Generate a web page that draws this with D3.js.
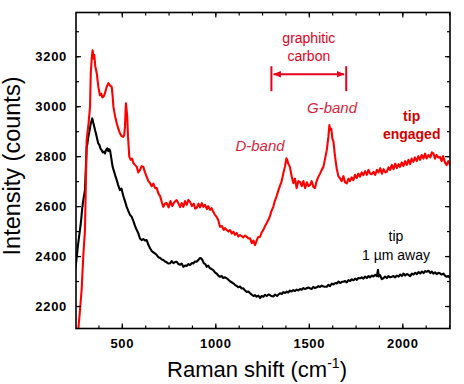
<!DOCTYPE html>
<html>
<head>
<meta charset="utf-8">
<script src="https://cdn.jsdelivr.net/npm/d3@7"></script>
<style>
  body { margin: 0; background: #fff; }
  svg { display: block; font-family: Arial, "Liberation Sans", sans-serif; }
  .ticklab text { font-weight: bold; font-size: 13px; letter-spacing: 0.7px; }
</style>
</head>
<body>
<svg width="464" height="384"></svg>
<script>
// axis ticks
var xMajor = [500, 1000, 1500, 2000];
var yMajor = [2200, 2400, 2600, 2800, 3000, 3200];
var xMinor = d3.range(375, 2255, 125);
var yMinor = d3.range(2200, 3375, 100);

// spectrum with the tip engaged [Raman shift, counts]
var tipEngaged = [
  [267,2104],[276,2180],[285,2264],[294,2400],[303,2504],[308,2704],[312,2864],[322,2930],
  [330,2997],[334,3132],[340,3200],[344,3224],[349,3190],[353,3205],[358,3160],[366,3132],
  [374,3080],[383,3044],[390,3050],[396,3035],[401,3037],[406,3045],[410,3052],[418,3075],
  [428,3092],[435,3085],[441,3080],[446,3077],[451,3040],[455,2997],[464,2960],[473,2932],
  [481,2910],[490,2892],[499,2880],[508,2877],[513,2885],[517,2917],[520,2980],[522,3012],
  [525,2990],[529,2957],[533,2880],[540,2797],[548,2785],[555,2790],[562,2772],[570,2765],
  [580,2757],[588,2735],[597,2744],[606,2760],[615,2757],[624,2735],[633,2717],[642,2700],
  [651,2692],[660,2680],[669,2690],[678,2672],[687,2672],[696,2650],[705,2640],[714,2615],
  [722,2597],[731,2610],[740,2612],[750,2595],[760,2620],[770,2600],[780,2615],[793,2624],
  [803,2610],[812,2596],[820,2612],[829,2597],[838,2620],[847,2605],[856,2625],[865,2617],
  [875,2600],[885,2610],[892,2590],[900,2592],[910,2610],[918,2595],[928,2612],[936,2597],
  [945,2605],[955,2588],[962,2600],[972,2585],[980,2592],[989,2577],[998,2565],[1007,2557],
  [1015,2545],[1025,2517],[1035,2520],[1045,2505],[1052,2512],[1061,2504],[1070,2498],[1079,2504],
  [1088,2490],[1097,2497],[1105,2485],[1114,2492],[1123,2478],[1132,2484],[1141,2480],[1150,2475],
  [1159,2482],[1168,2477],[1177,2470],[1186,2471],[1195,2452],[1204,2462],[1212,2444],[1220,2460],
  [1228,2475],[1239,2477],[1248,2495],[1257,2505],[1266,2520],[1275,2532],[1284,2545],[1292,2560],
  [1300,2580],[1310,2597],[1318,2620],[1328,2640],[1336,2660],[1345,2680],[1355,2700],[1364,2732],
  [1373,2760],[1380,2791],[1385,2785],[1390,2770],[1399,2757],[1408,2720],[1417,2692],[1426,2710],
  [1435,2672],[1444,2700],[1453,2697],[1462,2680],[1471,2700],[1480,2672],[1490,2695],[1498,2680],
  [1506,2684],[1515,2700],[1524,2678],[1533,2672],[1542,2700],[1551,2717],[1560,2730],[1569,2745],
  [1578,2757],[1587,2790],[1596,2824],[1605,2880],[1610,2924],[1614,2905],[1620,2910],[1626,2870],
  [1632,2857],[1640,2800],[1649,2751],[1658,2720],[1667,2711],[1676,2700],[1685,2720],[1694,2695],
  [1703,2691],[1712,2710],[1720,2700],[1729,2715],[1738,2704],[1747,2725],[1756,2712],[1765,2730],
  [1774,2718],[1783,2735],[1792,2724],[1801,2740],[1810,2725],[1819,2745],[1828,2730],[1837,2728],
  [1846,2737],[1855,2725],[1864,2745],[1873,2735],[1882,2752],[1891,2730],[1900,2748],[1909,2735],
  [1917,2737],[1926,2755],[1935,2745],[1944,2765],[1953,2748],[1962,2770],[1971,2752],[1980,2768],
  [1988,2757],[1997,2775],[2006,2760],[2015,2780],[2024,2765],[2033,2785],[2042,2768],[2050,2790],
  [2059,2777],[2068,2795],[2077,2780],[2086,2800],[2095,2785],[2104,2805],[2113,2790],[2122,2810],
  [2130,2791],[2140,2805],[2150,2795],[2158,2815],[2166,2811],[2175,2790],[2183,2805],[2192,2795],
  [2201,2797],[2210,2780],[2218,2800],[2228,2775],[2237,2764],[2246,2780],[2255,2764]
];

// spectrum with the tip 1 um away [Raman shift, counts]
var tipAway = [
  [250,2344],[255,2370],[259,2397],[265,2440],[270,2470],[276,2504],[282,2540],[288,2590],
  [294,2624],[303,2664],[308,2760],[312,2837],[316,2850],[321,2877],[327,2900],[334,2931],
  [338,2940],[342,2951],[347,2935],[352,2920],[357,2904],[362,2890],[368,2870],[374,2851],
  [380,2845],[386,2830],[392,2824],[398,2815],[404,2818],[410,2811],[416,2825],[422,2831],
  [428,2820],[432,2828],[437,2824],[442,2800],[446,2780],[451,2757],[460,2735],[466,2720],
  [473,2704],[480,2685],[490,2664],[498,2670],[508,2640],[517,2620],[526,2597],[535,2580],
  [544,2565],[553,2557],[562,2540],[571,2520],[580,2504],[589,2490],[597,2470],[606,2464],
  [615,2468],[624,2462],[633,2464],[642,2445],[651,2431],[660,2420],[669,2415],[678,2410],
  [687,2404],[696,2395],[705,2392],[714,2386],[722,2384],[731,2378],[740,2375],[750,2370],
  [758,2371],[767,2380],[776,2372],[785,2376],[794,2377],[803,2368],[812,2365],[820,2370],
  [829,2357],[838,2362],[847,2360],[856,2368],[865,2364],[874,2372],[882,2370],[890,2378],
  [900,2377],[910,2385],[917,2392],[923,2391],[930,2385],[938,2372],[946,2368],[954,2357],
  [962,2362],[970,2352],[980,2348],[989,2344],[998,2335],[1007,2330],[1016,2322],[1025,2317],
  [1034,2320],[1043,2312],[1052,2315],[1061,2311],[1070,2305],[1080,2298],[1088,2295],[1096,2291],
  [1105,2285],[1115,2280],[1123,2275],[1132,2278],[1141,2270],[1150,2271],[1159,2262],[1168,2256],
  [1177,2258],[1186,2251],[1195,2245],[1204,2240],[1212,2244],[1221,2237],[1230,2242],[1239,2232],
  [1248,2240],[1257,2237],[1266,2245],[1275,2240],[1284,2246],[1292,2244],[1300,2240],[1310,2238],
  [1320,2246],[1330,2240],[1338,2246],[1346,2251],[1355,2248],[1364,2256],[1373,2252],[1382,2258],
  [1390,2254],[1399,2262],[1408,2258],[1417,2264],[1426,2260],[1435,2266],[1444,2262],[1453,2268],
  [1462,2265],[1471,2272],[1480,2268],[1489,2271],[1498,2274],[1506,2271],[1515,2268],[1524,2277],
  [1533,2272],[1542,2275],[1551,2280],[1560,2276],[1569,2282],[1578,2278],[1587,2277],[1596,2277],
  [1605,2285],[1614,2280],[1623,2290],[1632,2286],[1641,2292],[1650,2290],[1659,2298],[1668,2292],
  [1677,2297],[1685,2297],[1694,2300],[1703,2295],[1712,2304],[1721,2300],[1730,2307],[1739,2303],
  [1748,2310],[1757,2305],[1765,2312],[1774,2311],[1783,2315],[1792,2310],[1801,2318],[1810,2312],
  [1819,2320],[1828,2315],[1837,2322],[1846,2318],[1855,2325],[1864,2320],[1870,2345],[1874,2318],
  [1880,2325],[1890,2308],[1899,2311],[1908,2318],[1917,2312],[1926,2320],[1935,2315],[1944,2317],
  [1953,2320],[1962,2315],[1971,2322],[1980,2318],[1989,2326],[1998,2320],[2006,2330],[2015,2322],
  [2024,2328],[2033,2325],[2042,2320],[2051,2330],[2060,2326],[2069,2333],[2078,2328],[2087,2336],
  [2096,2330],[2105,2338],[2114,2332],[2123,2340],[2130,2337],[2140,2341],[2150,2332],[2158,2338],
  [2166,2330],[2175,2335],[2184,2328],[2193,2333],[2201,2331],[2210,2326],[2219,2330],[2228,2322],
  [2237,2317],[2246,2320],[2255,2312]
];

// graphitic carbon range
var graphiticRange = [1300, 1700];

var svg = d3.select("svg");
var plotLeft = 76, plotRight = 450, plotTop = 12.5, plotBottom = 328.5;

var x = d3.scaleLinear().domain([255, 2255]).range([plotLeft, plotRight]);
var y = d3.scaleLinear().domain([2110, 3375]).range([plotBottom, plotTop]);

// clip lines to the frame
var defs = svg.append("defs");
defs.append("clipPath").attr("id", "plotclip")
  .append("rect").attr("x", plotLeft).attr("y", plotTop)
  .attr("width", plotRight - plotLeft).attr("height", plotBottom - plotTop);

var line = d3.line().x(function(d) { return x(d[0]); }).y(function(d) { return y(d[1]); });

var plot = svg.append("g").attr("clip-path", "url(#plotclip)");
plot.append("path").datum(tipAway)
  .attr("fill", "none").attr("stroke", "#000").attr("stroke-width", 2.1)
  .attr("stroke-linejoin", "round").attr("d", line);
plot.append("path").datum(tipEngaged)
  .attr("fill", "none").attr("stroke", "#ff0000").attr("stroke-width", 2.1)
  .attr("stroke-linejoin", "round").attr("d", line);

// ticks, all pointing inward
function addAxis(axis, tr, cls) {
  svg.append("g").attr("class", cls).attr("transform", tr).call(axis)
    .call(function(g) { g.select(".domain").remove(); });
}
addAxis(d3.axisBottom(x).tickValues(xMajor).tickSize(-5).tickPadding(10).tickFormat(d3.format("d")),
  "translate(0," + plotBottom + ")", "ticklab");
addAxis(d3.axisBottom(x).tickValues(xMinor).tickSize(-3).tickFormat(""), "translate(0," + plotBottom + ")", "");
addAxis(d3.axisTop(x).tickValues(xMajor).tickSize(-5).tickFormat(""), "translate(0," + plotTop + ")", "");
addAxis(d3.axisTop(x).tickValues(xMinor).tickSize(-3).tickFormat(""), "translate(0," + plotTop + ")", "");
addAxis(d3.axisLeft(y).tickValues(yMajor).tickSize(-5).tickPadding(9).tickFormat(d3.format("d")),
  "translate(" + plotLeft + ",0)", "ticklab");
addAxis(d3.axisLeft(y).tickValues(yMinor).tickSize(-3).tickFormat(""), "translate(" + plotLeft + ",0)", "");
addAxis(d3.axisRight(y).tickValues(yMajor).tickSize(-5).tickFormat(""), "translate(" + plotRight + ",0)", "");
addAxis(d3.axisRight(y).tickValues(yMinor).tickSize(-3).tickFormat(""), "translate(" + plotRight + ",0)", "");
svg.selectAll(".tick line").attr("stroke-width", 1.2);

// frame
svg.append("rect").attr("x", plotLeft).attr("y", plotTop)
  .attr("width", plotRight - plotLeft).attr("height", plotBottom - plotTop)
  .attr("fill", "none").attr("stroke", "#000").attr("stroke-width", 1.6);

// axis titles
var xt = svg.append("text").attr("x", 257).attr("y", 377)
  .attr("text-anchor", "middle").attr("font-size", 22);
xt.append("tspan").text("Raman shift (cm");
xt.append("tspan").attr("font-size", 14).attr("dy", -9).text("-1");
xt.append("tspan").attr("dy", 9).text(")");

svg.append("text").attr("transform", "translate(20,166) rotate(-90)")
  .attr("text-anchor", "middle").attr("font-size", 23.5).text("Intensity (counts)");

// graphitic carbon bracket with double arrow
var red = "#e8001c";
["start", "end"].forEach(function(k) {
  defs.append("marker").attr("id", "arr-" + k).attr("viewBox", "0 0 10 10")
    .attr("refX", 9).attr("refY", 5)
    .attr("markerWidth", 4).attr("markerHeight", 4).attr("orient", "auto-start-reverse")
    .append("path").attr("d", "M0,1L10,5L0,9Z").attr("fill", red);
});
graphiticRange.forEach(function(v) {
  svg.append("line").attr("x1", x(v)).attr("x2", x(v))
    .attr("y1", y(3160)).attr("y2", y(3060))
    .attr("stroke", red).attr("stroke-width", 2);
});
svg.append("line").attr("x1", x(graphiticRange[0] + 12)).attr("x2", x(graphiticRange[1] - 12))
  .attr("y1", y(3128)).attr("y2", y(3128))
  .attr("stroke", red).attr("stroke-width", 2)
  .attr("marker-start", "url(#arr-start)").attr("marker-end", "url(#arr-end)");

function label(t, sx, sc, opts) {
  var el = svg.append("text").attr("x", x(sx)).attr("y", y(sc))
    .attr("text-anchor", "middle").attr("font-size", opts.size).attr("fill", opts.color).text(t);
  if (opts.italic) el.attr("font-style", "italic");
  if (opts.bold) el.attr("font-weight", "bold");
}
label("graphitic", 1500, 3252, { size: 14, color: red });
label("carbon", 1500, 3180, { size: 14, color: red });
label("G-band", 1624, 2972, { size: 15, color: "#dc1f3c", italic: true });
label("D-band", 1239, 2820, { size: 15, color: "#dc1f3c", italic: true });
label("tip", 2050, 2940, { size: 14, color: "#d40000", bold: true });
label("engaged", 2050, 2868, { size: 14, color: "#d40000", bold: true });
label("tip", 1966, 2460, { size: 14, color: "#000" });
label("1 \u00b5m away", 1966, 2384, { size: 14, color: "#000" });
</script>
</body>
</html>
